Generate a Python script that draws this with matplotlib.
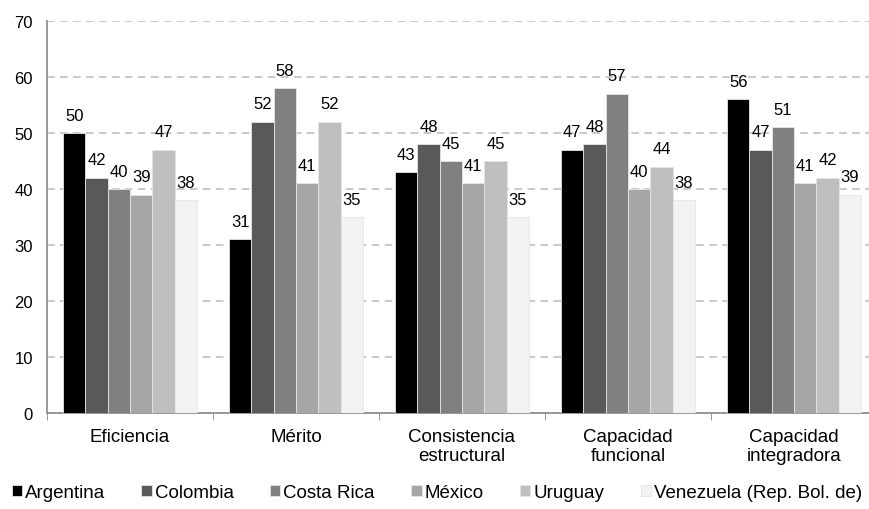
import matplotlib
matplotlib.use("Agg")
import matplotlib.pyplot as plt
import numpy as np

categories = ["Eficiencia", "Mérito", "Consistencia\nestructural", "Capacidad\nfuncional", "Capacidad\nintegradora"]
series_names = ["Argentina", "Colombia", "Costa Rica", "México", "Uruguay", "Venezuela (Rep. Bol. de)"]
argentina = [50, 31, 43, 47, 56]
colombia = [42, 52, 48, 48, 47]
costa_rica = [40, 58, 45, 57, 51]
mexico = [39, 41, 41, 40, 41]
uruguay = [47, 52, 45, 44, 42]
venezuela = [38, 35, 35, 38, 39]
series_values = [argentina, colombia, costa_rica, mexico, uruguay, venezuela]
colors = ["#000000", "#595959", "#808080", "#a6a6a6", "#bfbfbf", "#f2f2f2"]
yticks = [0, 10, 20, 30, 40, 50, 60, 70]

plt.rcParams['font.family'] = ['Liberation Sans', 'DejaVu Sans']

fig = plt.figure(figsize=(8.7, 5.1), dpi=100)
ax = fig.add_axes([0.054, 0.188, 0.954, 0.769])

x = np.arange(len(categories))
n = len(series_values)
w = 0.1345
for i, (name, vals, c) in enumerate(zip(series_names, series_values, colors)):
    pos = x + (i - (n - 1) / 2) * w
    ax.bar(pos, vals, width=w, color=c, edgecolor="#e6e6e6", linewidth=0.6, label=name, zorder=3)
    for p, v in zip(pos, vals):
        ax.text(p, v + 2.4, f"{v}", ha="center", va="baseline", fontsize=12, zorder=4)

ax.set_xlim(-0.5, len(categories) - 0.5)
ax.set_ylim(0, 70)
ax.set_yticks(yticks)
ax.set_yticklabels([str(t) for t in yticks], fontsize=12)
ax.set_xticks(x)
ax.set_xticklabels(categories, fontsize=13.5, linespacing=1.1)
ax.tick_params(axis="x", which="major", length=0, pad=11)
ax.set_xticks(np.arange(-0.5, len(categories)), minor=True)
ax.tick_params(axis="x", which="minor", length=5, color="#888888")
ax.tick_params(axis="y", length=0, pad=10)

ax.yaxis.grid(True, linestyle=(0, (5, 3.5)), color="#bbbbbb", linewidth=1.1, zorder=0)
ax.set_axisbelow(True)
for s in ["top", "right"]:
    ax.spines[s].set_visible(False)
ax.spines["left"].set_color("#888888")
ax.spines["bottom"].set_color("#888888")
ax.spines["left"].set_linewidth(1.2)
ax.spines["bottom"].set_linewidth(1.2)

fig.legend(loc="center", bbox_to_anchor=(0.502, 0.032), ncol=6, frameon=False,
           fontsize=13.5, handlelength=0.55, handleheight=0.55, handletextpad=0.15,
           columnspacing=1.95)

fig.savefig("out.png", dpi=100)
